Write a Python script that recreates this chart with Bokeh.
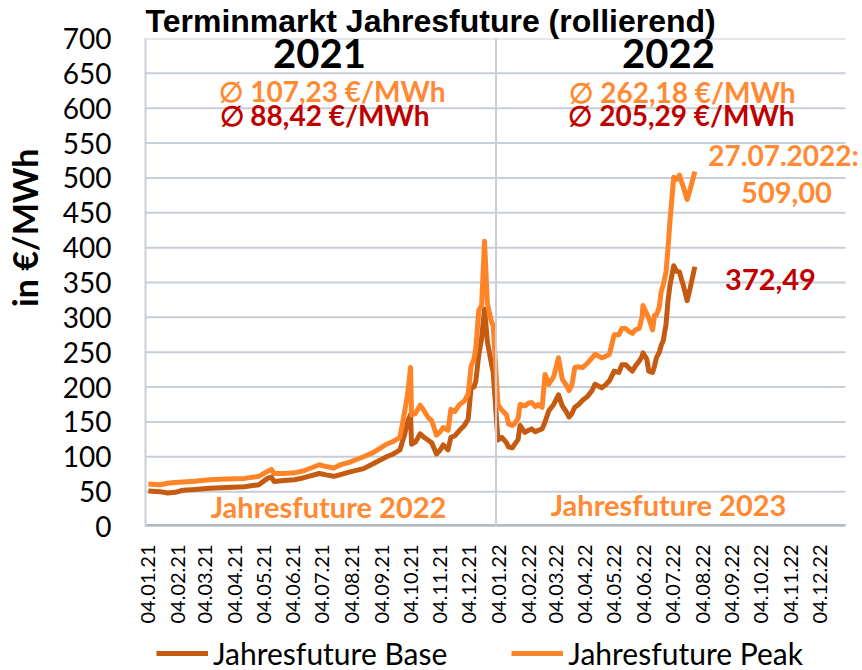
import pandas as pd
from math import pi
from bokeh.plotting import figure
from bokeh.layouts import column
from bokeh.models import (ColumnDataSource, Range1d, FixedTicker, Span, Label,
                          Legend, LegendItem)
from bokeh.embed import file_html
from bokeh.resources import INLINE

# ---------------- data ----------------
dates = [
    "2021-01-04", "2021-01-16", "2021-01-24", "2021-02-01", "2021-02-09", "2021-02-21",
    "2021-03-09", "2021-03-26", "2021-04-14", "2021-04-29", "2021-05-08", "2021-05-12",
    "2021-05-15", "2021-05-25", "2021-06-05", "2021-06-15", "2021-07-01", "2021-07-08",
    "2021-07-16", "2021-07-23", "2021-08-01", "2021-08-16", "2021-08-26", "2021-09-09",
    "2021-09-16", "2021-09-23", "2021-09-28", "2021-10-01", "2021-10-04", "2021-10-05",
    "2021-10-09", "2021-10-14", "2021-10-18", "2021-10-22", "2021-10-26", "2021-10-31",
    "2021-11-04", "2021-11-07", "2021-11-12", "2021-11-15", "2021-11-19", "2021-11-24",
    "2021-11-29", "2021-12-03", "2021-12-06", "2021-12-09", "2021-12-11", "2021-12-14",
    "2021-12-17", "2021-12-20", "2021-12-23", "2021-12-27", "2021-12-29",
    "2022-01-03", "2022-01-07", "2022-01-12", "2022-01-14", "2022-01-18", "2022-01-20",
    "2022-01-24", "2022-01-26", "2022-01-31", "2022-02-04", "2022-02-07", "2022-02-11",
    "2022-02-14", "2022-02-18", "2022-02-21", "2022-02-25", "2022-03-02", "2022-03-07",
    "2022-03-11", "2022-03-15", "2022-03-18", "2022-03-21", "2022-03-24", "2022-03-28",
    "2022-04-01", "2022-04-06", "2022-04-11", "2022-04-14", "2022-04-21", "2022-04-25",
    "2022-04-29", "2022-05-04", "2022-05-09", "2022-05-12", "2022-05-16", "2022-05-19",
    "2022-05-23", "2022-05-26", "2022-05-30", "2022-06-02", "2022-06-03", "2022-06-07",
    "2022-06-09", "2022-06-13", "2022-06-15", "2022-06-17", "2022-06-20", "2022-06-22",
    "2022-06-24", "2022-06-27", "2022-06-29", "2022-07-01", "2022-07-05", "2022-07-08",
    "2022-07-11", "2022-07-13", "2022-07-15", "2022-07-19", "2022-07-22", "2022-07-27",
]
peak = [
    61, 60, 62, 63, 64, 65,
    67, 68, 69, 72, 79, 82,
    76, 76, 77, 80, 88.6, 86,
    84, 88.6, 92, 100, 106, 118,
    122, 128, 166, 190, 228, 160,
    162, 174, 166, 157, 152, 131,
    136, 142, 138, 168, 165, 175,
    180, 190, 230, 240, 256, 310,
    317, 409, 320, 295, 288,
    175, 167, 160, 147, 145, 147,
    155, 175, 173, 177, 178, 172,
    175, 171, 218, 204, 215, 242,
    211, 203, 195, 203, 228, 229,
    228, 234, 242, 247, 242, 244,
    247, 275, 275, 284, 284, 280,
    277, 282, 284, 300, 317, 305,
    299, 282, 303, 303, 315, 337,
    346, 365, 398, 436, 501, 498,
    504, 495, 487, 469, 483, 509.00,
]
base = [
    51, 50, 48, 49, 52, 53,
    55, 56, 57, 60, 69, 71,
    64.5, 66, 67, 70, 76, 74,
    72, 74.5, 78, 83, 90, 100,
    104, 110, 133, 150, 161, 118,
    121, 133, 128, 124, 120, 104,
    110, 117, 110, 128, 130, 138,
    145, 154, 199, 200, 209, 246,
    270, 312, 265, 235, 222,
    124, 128, 120, 114, 113, 117,
    125, 145, 135, 138, 140, 136,
    138, 140, 150, 166, 175, 189,
    173, 165, 157, 162, 171, 175,
    181, 186, 195, 204, 199, 203,
    209, 223, 221, 232, 232, 228,
    223, 230, 237, 244, 249, 240,
    223, 221, 230, 242, 250, 260,
    266, 290, 323, 345, 374, 366,
    365, 355, 346, 324, 341, 372.49,
]

tick_labels = ["04.01.21", "04.02.21", "04.03.21", "04.04.21", "04.05.21", "04.06.21",
               "04.07.21", "04.08.21", "04.09.21", "04.10.21", "04.11.21", "04.12.21",
               "04.01.22", "04.02.22", "04.03.22", "04.04.22", "04.05.22", "04.06.22",
               "04.07.22", "04.08.22", "04.09.22", "04.10.22", "04.11.22", "04.12.22"]
y_ticks = [0, 50, 100, 150, 200, 250, 300, 350, 400, 450, 500, 550, 600, 650, 700]
x_start, x_end = "2021-01-01", "2022-12-31"
year_split = "2022-01-01"

title_text = "Terminmarkt Jahresfuture (rollierend)"
y_label = "in €/MWh"
series_names = ["Jahresfuture Base", "Jahresfuture Peak"]
avg_peak_2021 = "∅ 107,23 €/MWh"
avg_base_2021 = "∅ 88,42 €/MWh"
avg_peak_2022 = "∅ 262,18 €/MWh"
avg_base_2022 = "∅ 205,29 €/MWh"

# ---------------- styling / layout ----------------
BASE_C = "#C55A11"
PEAK_C = "#FF8427"
TXT_OR = "#FF8A33"
TXT_RED = "#C00000"
GRID_C = "#C8CED6"
AXIS_C = "#B4BAC2"
FONT = "Lato"

W = 862
H_MAIN, H_LEG = 626, 44
FRAME_L, FRAME_T, FRAME_B = 140, 37, 530.5
AXIS_PX = 705          # width of the drawn date axis (start..end)
FRAME_W = W - FRAME_L  # frame extends to page edge so right-hand labels fit


def ms(s):
    return pd.Timestamp(s).value / 1e6


t0, t1 = pd.Timestamp(x_start), pd.Timestamp(x_end)
range_end = t0 + (t1 - t0) * (FRAME_W / AXIS_PX)

src = ColumnDataSource(dict(x=pd.to_datetime(dates), peak=peak, base=base))

p = figure(width=W, height=H_MAIN, output_backend="svg", toolbar_location=None,
           x_axis_type="datetime",
           x_range=Range1d(t0, range_end), y_range=Range1d(0, 700),
           min_border_left=FRAME_L, min_border_right=0, min_border_top=FRAME_T,
           min_border_bottom=int(round(H_MAIN - FRAME_B)))
p.outline_line_color = None
p.background_fill_color = "white"
p.border_fill_color = "white"

# title
p.title.text = title_text
p.title.align = "left"
p.title.offset = 0
p.title.standoff = 0
p.title.text_font = "Liberation Sans"
p.title.text_font_size = "32px"
p.title.text_font_style = "bold"
p.title.text_color = "black"

# x axis
tick_ms = [ms(pd.to_datetime(t, format="%d.%m.%y")) for t in tick_labels]
p.xaxis.ticker = FixedTicker(ticks=tick_ms)
p.xaxis.major_label_overrides = {t: l for t, l in zip(tick_ms, tick_labels)}
p.xaxis.major_label_orientation = pi / 2
p.xaxis.major_label_text_font = FONT
p.xaxis.major_label_text_font_size = "20px"
p.xaxis.major_label_text_color = "black"
p.xaxis.major_label_standoff = 12
p.xaxis.major_tick_line_color = None
p.xaxis.minor_tick_line_color = None
p.xaxis.axis_line_color = None

# y axis
p.yaxis.ticker = FixedTicker(ticks=y_ticks)
p.yaxis.major_label_text_font = FONT
p.yaxis.major_label_text_font_size = "28px"
p.yaxis.major_label_text_color = "black"
p.yaxis.major_label_standoff = 28
p.yaxis.major_tick_line_color = None
p.yaxis.minor_tick_line_color = None
p.yaxis.axis_line_color = GRID_C
p.yaxis.axis_line_width = 2
p.yaxis.axis_label = "\u2003\u2003\u2003\u00a0\u00a0\u00a0\u00a0" + y_label
p.yaxis.axis_label_text_font = FONT
p.yaxis.axis_label_text_font_size = "34px"
p.yaxis.axis_label_text_font_style = "bold"
p.yaxis.axis_label_text_color = "black"
p.yaxis.axis_label_standoff = 15

# grid drawn only across the date axis extent
p.xgrid.grid_line_color = None
p.ygrid.grid_line_color = None
n = len(y_ticks)
p.segment(x0=[t0] * n, x1=[t1] * n, y0=y_ticks, y1=y_ticks,
          line_color=GRID_C, line_width=2)
p.segment(x0=[t0], x1=[t1], y0=[0], y1=[0], line_color=AXIS_C, line_width=5)

p.add_layout(Span(location=ms(year_split), dimension="height",
                  line_color=GRID_C, line_width=2))

p.line("x", "base", source=src, line_color=BASE_C, line_width=5, line_join="round")
p.line("x", "peak", source=src, line_color=PEAK_C, line_width=5, line_join="round")


def lab(text, x, y, size, color="black", bold=True, font=FONT, align="center"):
    p.add_layout(Label(text=text, x=x, y=y, x_units="screen", y_units="screen",
                       text_font=font, text_font_size=size, text_color=color,
                       text_font_style="bold" if bold else "normal",
                       text_align=align, text_baseline="middle"))


lab("2021", 174, 473, "40px")
lab("2022", 523, 473, "40px")
lab(avg_peak_2021, 187, 436, "28px", TXT_OR)
lab(avg_base_2021, 179, 412, "28px", TXT_RED)
lab(avg_peak_2022, 537, 435, "28px", TXT_OR)
lab(avg_base_2022, 536, 412, "28px", TXT_RED)
lab("27.07.2022:", 638, 372, "28px", TXT_OR)
lab("509,00", 641, 334, "29px", TXT_OR)
lab("372,49", 625, 247, "29px", TXT_RED)
lab("Jahresfuture 2022", 183, 20, "29px", TXT_OR)
lab("Jahresfuture 2023", 523, 22, "29px", TXT_OR)

# legend strip (separate small figure below the chart, frame aligned with p)
p2 = figure(width=W, height=H_LEG, output_backend="svg", toolbar_location=None,
            x_axis_location=None, y_axis_location=None,
            x_range=Range1d(0, 1), y_range=Range1d(0, 1), min_border=0)
p2.outline_line_color = None
p2.grid.grid_line_color = None
nan = float("nan")
lr_base = p2.line(x=[nan], y=[nan], line_color=BASE_C, line_width=5)
lr_peak = p2.line(x=[nan], y=[nan], line_color=PEAK_C, line_width=5)
legend = Legend(items=[LegendItem(label=series_names[0], renderers=[lr_base]),
                       LegendItem(label=series_names[1], renderers=[lr_peak])],
                location=(11, -1), orientation="horizontal",
                label_text_font=FONT, label_text_font_size="30px",
                label_text_color="black",
                glyph_width=52, glyph_height=20, label_standoff=5, spacing=64,
                padding=0, margin=0, border_line_color=None,
                background_fill_alpha=0)
p2.add_layout(legend)

layout = column(p, p2, spacing=0)
open("out.html", "w").write(file_html(layout, INLINE))
